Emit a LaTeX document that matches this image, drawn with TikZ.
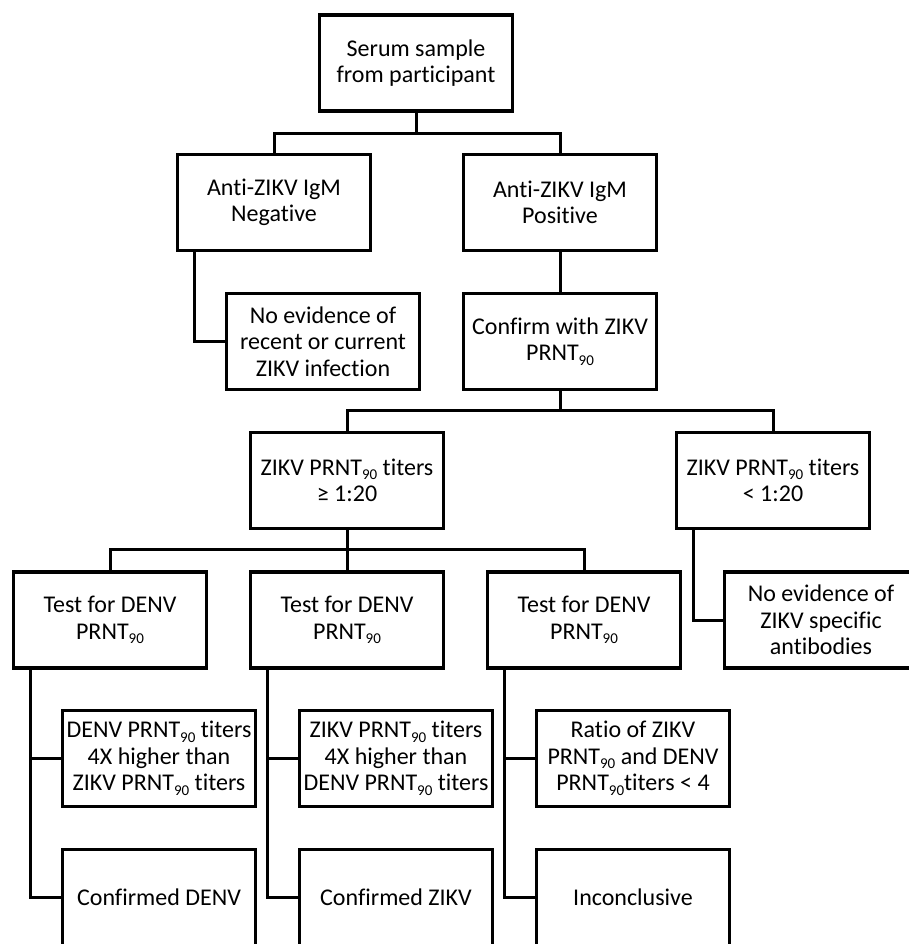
\documentclass[tikz,border=0pt]{standalone}
\usepackage{fontspec}
\setmainfont{Carlito}[Ligatures=CommonOff]
\usetikzlibrary{positioning}
\tikzset{
    tnode/.style = {align=center, inner sep=0pt, text centered},
    box_node/.style = {tnode, rectangle, draw=black, line width=3.3pt, minimum width=193pt, minimum height=96pt, font={\fontsize{24}{26.5}\selectfont}},
    link/.style = {draw=black, line width=3pt}
}
\newcommand{\prnt}{PRNT\raisebox{-4.5pt}{\fontsize{15}{15}\selectfont 90}}

\begin{document}
\begin{tikzpicture}
            [x=1pt, y=-1pt]
            \useasboundingbox (0,0) rectangle (909,944);

            % top levels
            \node [box_node] (serum) at (416,63) {Serum sample\\from participant};
            \node [box_node] (igm_neg) at (274,202.5) {Anti-ZIKV IgM\\Negative};
            \node [box_node] (igm_pos) at (560,202.5) {Anti-ZIKV IgM\\Positive};
            \node [box_node] (no_recent) at (323,341.5) {No evidence of\\recent or current\\ZIKV infection};
            \node [box_node] (confirm) at (560,341.5) {Confirm with ZIKV\\\prnt};
            \node [box_node] (zikv_ge) at (347,480.5) {ZIKV \prnt{} titers\\≥ 1:20};
            \node [box_node] (zikv_lt) at (773,480.5) {ZIKV \prnt{} titers\\< 1:20};
            \node [box_node] (no_spec) at (821,620) {No evidence of\\ZIKV specific\\antibodies};

            % DENV tests
            \node [box_node] (test_a) at (110,620) {Test for DENV\\\prnt};
            \node [box_node] (test_b) at (347,620) {Test for DENV\\\prnt};
            \node [box_node] (test_c) at (584,620) {Test for DENV\\\prnt};
            \node [box_node] (res_a) at (159,758.5) {DENV \prnt{} titers\\4X higher than\\ZIKV \prnt{} titers};
            \node [box_node] (res_b) at (396,758.5) {ZIKV \prnt{} titers\\4X higher than\\DENV \prnt{} titers};
            \node [box_node] (res_c) at (633,758.5) {Ratio of ZIKV\\\prnt{} and DENV\\\prnt{}titers < 4};
            \node [box_node] (out_a) at (159,897.5) {Confirmed DENV};
            \node [box_node] (out_b) at (396,897.5) {Confirmed ZIKV};
            \node [box_node] (out_c) at (633,897.5) {Inconclusive};

            % connectors
            \draw [link] (serum.south) -- ++(0,21) -| (igm_neg.north);
            \draw [link] (serum.south) -- ++(0,21) -| (igm_pos.north);
            \draw [link] ([xshift=19pt]igm_neg.south west) |- (no_recent.west);
            \draw [link] (igm_pos.south) -- (confirm.north);
            \draw [link] (confirm.south) -- ++(0,19) -| (zikv_ge.north);
            \draw [link] (confirm.south) -- ++(0,19) -| (zikv_lt.north);
            \draw [link] ([xshift=19pt]zikv_lt.south west) |- (no_spec.west);
            \foreach \t in {test_a, test_b, test_c} {
                \draw [link] (zikv_ge.south) -- ++(0,19) -| (\t.north);
            }
            \foreach \t/\r/\o in {test_a/res_a/out_a, test_b/res_b/out_b, test_c/res_c/out_c} {
                \draw [link] ([xshift=19pt]\t.south west) |- (\r.west);
                \draw [link] ([xshift=19pt]\t.south west) |- (\o.west);
            }
        \end{tikzpicture}
\end{document}
